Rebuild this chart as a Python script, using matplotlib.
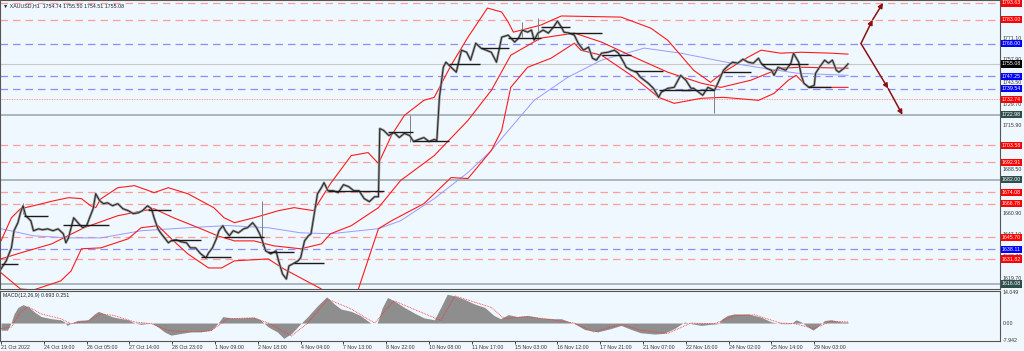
import numpy as np
import matplotlib.pyplot as plt

plt.rcParams['font.family'] = ['Liberation Sans', 'DejaVu Sans']

# ---- price data (H1 bars, sampled) ----
bars = [0, 4, 8, 10, 13, 15, 17, 19, 23, 25, 29, 32, 36, 40, 44, 48, 50, 52, 56, 58, 60, 63, 66, 68, 71, 73, 76, 79,
        82, 86, 90, 94, 98, 102, 106, 109, 113, 116, 118, 121, 123, 126, 129, 131, 135, 139, 143, 146, 150, 154, 158,
        160, 163, 166, 168, 171, 173, 176, 179, 183, 187, 190, 194, 197, 199, 201, 204, 208, 212, 214, 217, 220, 222,
        225, 229, 231, 234, 237, 239, 241, 244, 247, 249, 252, 256, 260, 264, 268, 272, 276, 280, 284, 288, 291, 292,
        295, 299, 303, 307, 311, 315, 318, 322, 326, 330, 334, 336, 338, 341, 343, 347, 351, 355, 359, 362, 366, 370,
        374, 378, 382, 386, 391, 396, 399, 402, 406, 409, 411, 414, 418, 422, 426, 429, 432, 434, 438, 442, 445, 449,
        453, 456, 459, 463, 468, 473, 476, 480, 482, 486, 490, 493, 499, 503, 507, 509, 514, 519, 524, 528, 532, 534,
        541, 545, 550, 553, 557, 561, 564, 568, 572, 576, 580, 584, 586, 590, 594, 596, 599, 601, 605, 609, 611, 615,
        617, 619, 623, 627, 628, 631, 635, 638, 641, 644, 646, 650, 653]
close = [1625.6, 1630.7, 1638.9, 1649.7, 1654.8, 1661.1, 1665.5, 1659.2, 1656.0, 1649.7, 1650.9, 1650.3, 1650.9,
         1649.7, 1650.9, 1647.8, 1642.1, 1645.2, 1657.9, 1656.0, 1654.1, 1651.6, 1652.9, 1657.3, 1663.6, 1673.1,
         1668.7, 1666.8, 1667.4, 1665.5, 1666.8, 1663.6, 1662.4, 1660.5, 1661.1, 1662.4, 1665.5, 1663.6, 1657.9,
         1650.9, 1648.4, 1645.2, 1642.1, 1643.3, 1644.0, 1642.7, 1642.1, 1638.9, 1638.9, 1635.1, 1632.6, 1635.7,
         1638.9, 1644.6, 1649.7, 1652.9, 1649.7, 1646.5, 1649.7, 1648.4, 1650.9, 1651.6, 1654.8, 1651.6, 1648.4,
         1644.6, 1637.0, 1635.1, 1637.0, 1630.7, 1622.4, 1619.2, 1627.5, 1628.8, 1630.7, 1632.6, 1643.3, 1646.5,
         1647.8, 1657.9, 1673.1, 1676.9, 1680.1, 1675.0, 1675.0, 1673.8, 1678.8, 1677.6, 1675.0, 1675.0, 1670.0,
         1668.1, 1671.2, 1671.2, 1714.3, 1713.1, 1709.9, 1711.8, 1708.6, 1711.2, 1709.9, 1706.1, 1707.4, 1708.6,
         1706.1, 1707.4, 1706.7, 1734.0, 1753.0, 1756.2, 1753.0, 1749.9, 1763.8, 1762.5, 1757.5, 1768.2, 1765.1,
         1763.8, 1762.5, 1756.2, 1772.0, 1773.3, 1768.9, 1771.4, 1776.5, 1775.2, 1776.5, 1770.1, 1774.6, 1776.5,
         1774.6, 1778.4, 1782.2, 1778.4, 1775.2, 1774.6, 1773.3, 1768.2, 1763.8, 1765.7, 1758.7, 1757.5, 1761.9,
         1762.5, 1763.8, 1761.9, 1756.2, 1753.0, 1751.1, 1749.9, 1746.7, 1742.9, 1739.7, 1734.0, 1737.2, 1739.7,
         1740.3, 1747.9, 1744.8, 1739.7, 1739.7, 1735.3, 1740.3, 1738.4, 1743.5, 1751.1, 1754.3, 1756.2, 1755.6,
         1758.1, 1756.2, 1755.6, 1758.7, 1755.6, 1752.4, 1751.1, 1747.9, 1753.0, 1752.4, 1751.1, 1755.6, 1761.9,
         1756.2, 1747.9, 1742.9, 1740.3, 1741.6, 1749.2, 1753.0, 1757.5, 1755.6, 1757.5, 1751.1, 1749.9, 1752.4,
         1755.08]
# long wicks: bar, low, high
wick_bar = [17, 201, 315, 402, 414, 550]
wick_low = [1660.0, 1640.0, 1706.0, 1772.0, 1770.0, 1723.9]
wick_high = [1667.4, 1668.7, 1722.6, 1781.6, 1784.1, 1740.0]

# ---- bollinger bands and moving average ----
up_bar = [0, 8, 15, 25, 41, 52, 62, 69, 73, 77, 90, 103, 118, 129, 144, 164, 172, 180, 195, 214, 226, 241, 254, 270,
          283, 291, 301, 311, 326, 334, 347, 360, 375, 386, 391, 395, 416, 432, 478, 501, 514, 534, 547, 557, 576, 586,
          601, 617, 640, 653]
upper = [1643.3, 1657.9, 1663.6, 1665.5, 1668.7, 1670.6, 1670.0, 1665.5, 1664.3, 1669.9, 1676.9, 1678.2, 1673.8,
         1676.9, 1673.1, 1664.3, 1657.9, 1654.8, 1657.9, 1662.4, 1664.3, 1662.4, 1679.5, 1697.2, 1699.1, 1692.2,
         1709.9, 1722.6, 1732.1, 1734.0, 1754.3, 1772.0, 1790.4, 1787.9, 1781.6, 1775.2, 1779.6, 1785.4, 1784.7,
         1777.7, 1770.1, 1751.1, 1743.5, 1749.9, 1759.4, 1763.8, 1761.9, 1762.5, 1761.9, 1761.3]
mid_bar = [0, 15, 39, 64, 90, 110, 118, 133, 154, 167, 180, 195, 210, 231, 247, 254, 270, 291, 308, 334, 360, 378,
           393, 416, 442, 463, 488, 514, 540, 555, 578, 601, 617, 653]
middle = [1631.9, 1635.7, 1641.4, 1651.6, 1659.2, 1662.4, 1663.6, 1657.9, 1651.0, 1646.5, 1643.3, 1643.3, 1640.2,
          1638.3, 1641.4, 1647.8, 1652.9, 1664.3, 1681.4, 1697.2, 1719.4, 1738.4, 1760.6, 1771.4, 1774.6, 1768.9,
          1759.4, 1749.9, 1742.9, 1740.3, 1744.8, 1752.4, 1753.0, 1752.4]
lo_bar = [0, 15, 25, 46, 54, 62, 77, 98, 108, 121, 133, 144, 160, 170, 180, 206, 218, 231, 247, 262, 275, 291, 301,
          326, 347, 360, 378, 386, 393, 406, 424, 442, 447, 463, 488, 507, 519, 540, 557, 584, 596, 607, 613, 622, 653]
lower = [1623.1, 1612.9, 1612.3, 1618.0, 1624.3, 1638.3, 1638.9, 1644.6, 1651.6, 1652.9, 1643.3, 1635.1, 1626.2,
         1626.2, 1630.7, 1631.9, 1625.6, 1619.9, 1612.9, 1605.3, 1611.6, 1651.0, 1656.0, 1666.8, 1683.3, 1682.7,
         1700.4, 1713.1, 1740.3, 1753.0, 1758.7, 1768.2, 1763.8, 1760.6, 1746.7, 1734.0, 1730.2, 1733.4, 1734.0,
         1732.1, 1736.5, 1744.8, 1747.9, 1740.3, 1740.3]
ma_bar = [0, 25, 52, 77, 108, 144, 175, 206, 231, 254, 291, 308, 334, 360, 378, 411, 437, 463, 496, 524, 563, 588,
          614, 653]
ma = [1651.0, 1646.5, 1645.2, 1645.2, 1649.7, 1651.6, 1653.0, 1651.6, 1648.4, 1647.8, 1651.0, 1656.0, 1670.0,
      1686.5, 1700.4, 1732.1, 1746.7, 1757.5, 1765.1, 1761.9, 1755.6, 1752.4, 1749.2, 1747.9]

# ---- short black level segments: start bar, end bar, price ----
seg_start = [0, 18, 48, 113, 131, 154, 172, 206, 226, 252, 298, 318, 345, 370, 391, 416, 437, 463, 488, 507, 524,
             557, 586, 622]
seg_end = [13, 36, 83, 131, 154, 177, 203, 226, 249, 295, 318, 345, 369, 392, 416, 439, 463, 486, 510, 532, 550,
           578, 622, 640]
seg_price = [1628.8, 1659.2, 1653.5, 1663.0, 1644.0, 1633.2, 1645.9, 1636.4, 1629.4, 1675.0, 1712.4, 1706.7,
             1754.9, 1765.1, 1771.4, 1778.4, 1774.6, 1760.6, 1750.5, 1738.4, 1738.4, 1749.9, 1754.9, 1740.3]

# ---- horizontal levels ----
red_levels = [1793.63, 1783.00, 1703.58, 1692.91, 1674.08, 1666.78, 1645.70, 1631.82]
red_dotted = [1732.74]
blue_levels = [1768.00, 1747.25, 1739.54, 1638.11]
gray_levels = [1722.98, 1682.00, 1616.08]
last_price = 1755.08
axis_ticks = [1771.10, 1757.90, 1743.50, 1729.70, 1715.90, 1688.50, 1660.90, 1647.10, 1633.30, 1619.70]

# ---- projection arrows ----
arrow_up_bar = [663, 672, 680]
arrow_up = [1768.00, 1783.00, 1793.63]
arrow_dn_bar = [663, 684, 695]
arrow_dn = [1768.00, 1739.54, 1722.98]

# ---- MACD ----
hist_bar = [0, 5, 8, 10, 13, 17, 21, 26, 31, 39, 46, 49, 51, 54, 59, 67, 72, 75, 80, 87, 98, 103, 108, 116, 121, 126,
            131, 139, 146, 154, 162, 167, 171, 177, 185, 195, 200, 206, 213, 218, 224, 231, 236, 244, 251, 257, 262,
            270, 277, 285, 290, 294, 298, 303, 311, 319, 326, 334, 339, 344, 350, 357, 365, 373, 380, 385, 391, 398,
            406, 416, 427, 432, 442, 450, 460, 470, 478, 486, 493, 504, 511, 519, 527, 532, 540, 547, 553, 556, 560,
            565, 576, 586, 594, 601, 609, 613, 617, 622, 626, 630, 635, 640, 648, 653]
hist = [-3.3, -3.3, 0.5, 4.2, 7.2, 8.5, 7.5, 5.0, 3.0, 2.0, 1.5, 0.5, -1.1, 0.0, 1.2, 1.5, 4.2, 5.4, 4.2, 2.7, 1.5,
        0.0, -0.6, 0.0, -1.8, -4.1, -5.6, -4.8, -4.1, -4.1, -3.3, -0.3, 3.0, 2.4, 2.4, 2.7, 1.5, -1.8, -4.1, -7.1,
        -4.8, -0.3, 2.7, 8.0, 12.1, 8.8, 6.5, 5.4, 3.5, 0.0, 0.0, 7.2, 11.8, 10.3, 7.2, 4.5, 2.4, 1.5, 7.2, 13.3, 12.5,
        11.0, 8.8, 7.2, 3.5, 2.0, 3.9, 3.0, 3.5, 2.4, 2.0, 2.0, -0.3, -3.0, -4.1, -2.6, -1.1, -3.0, -4.5, -5.1, -4.8,
        -2.6, 0.5, -0.3, -1.1, -0.6, -0.3, 2.0, 3.5, 4.2, 4.2, 2.7, 0.5, -0.3, -0.3, 1.5, 0.5, -1.8, -3.3, -1.5, 1.2,
        1.5, 0.5, 0.5]
sig_bar = [0, 8, 15, 21, 31, 46, 54, 67, 77, 87, 103, 116, 128, 144, 162, 175, 195, 206, 224, 236, 252, 270, 288,
           303, 321, 339, 350, 378, 388, 406, 442, 457, 478, 493, 514, 532, 550, 565, 581, 601, 612, 627, 640, 653]
signal = [-2.6, -1.8, 5.0, 7.5, 4.2, 2.0, -0.3, 0.9, 4.2, 3.5, 0.5, -0.3, -3.3, -4.1, -3.6, 2.0, 2.4, 0.0, -6.0,
          -0.3, 11.0, 6.5, 0.0, 10.3, 5.7, 1.2, 12.5, 7.2, 2.0, 3.0, 0.0, -4.1, -0.6, -3.3, -4.8, 0.0, -0.3, 3.3, 3.8,
          0.0, -0.3, -2.6, 0.9, 0.5]

time_labels = ['21 Oct 2022', '24 Oct 19:00', '26 Oct 05:00', '27 Oct 14:00', '28 Oct 23:00', '1 Nov 09:00',
               '2 Nov 18:00', '4 Nov 04:00', '7 Nov 13:00', '8 Nov 22:00', '10 Nov 08:00', '11 Nov 17:00',
               '15 Nov 03:00', '16 Nov 12:00', '17 Nov 21:00', '21 Nov 07:00', '22 Nov 16:00', '24 Nov 02:00',
               '25 Nov 14:00', '29 Nov 03:00']
time_ticks = [33 * i for i in range(len(time_labels))]

bg = '#f0f8ff'
fs = 3.8
W, H = 1024, 351
fig = plt.figure(figsize=(W / 100, H / 100), dpi=100, facecolor=bg)
ax = fig.add_axes([0, (H - 289) / H, 1000 / W, 289 / H], facecolor=bg)
mx = fig.add_axes([0, (H - 341) / H, 1000 / W, 50 / H], facecolor=bg)
xlim = (-0.8, 770.2)

# levels
for p in red_levels:
    ax.axhline(p, color='#ff9c9c', lw=0.9, dashes=(6, 4))
for p in red_dotted:
    ax.axhline(p, color='#ff8080', lw=0.6, ls=(0, (1, 1)))
for p in blue_levels:
    ax.axhline(p, color='#8c8cff', lw=0.9, dashes=(6, 4))
for p in gray_levels:
    ax.axhline(p, color='#a9b1b8', lw=1.3)
ax.axhline(last_price, color='#c8c8c8', lw=0.8)

# indicators
ax.plot(ma_bar, ma, color='#9a9aff', lw=0.7)
for bx, by in [(up_bar, upper), (mid_bar, middle), (lo_bar, lower)]:
    ax.plot(bx, by, color='#ff1a1a', lw=0.8)

# price
ax.vlines(wick_bar, wick_low, wick_high, color='#808080', lw=0.7)
ax.plot(bars, close, color='#a0a0a0', lw=1.8)
ax.plot(bars, close, color='#2a2a2a', lw=0.75)
ax.hlines(seg_price, seg_start, seg_end, color='#1a1a1a', lw=1.0)

# arrows
for xs, ys in [(arrow_up_bar, arrow_up), (arrow_dn_bar, arrow_dn)]:
    for i in range(len(xs) - 1):
        ax.annotate('', xy=(xs[i + 1], ys[i + 1]), xytext=(xs[i], ys[i]),
                    arrowprops=dict(arrowstyle='-|>', color='#8b1010', lw=1.1, mutation_scale=7,
                                    shrinkA=0, shrinkB=0))

ax.set_xlim(*xlim)
ax.set_ylim(1612.9, 1795.5)
ax.set_xticks([])
ax.set_yticks([])
for s in ax.spines.values():
    s.set_color('#555555')
    s.set_linewidth(0.8)


def tag(y, text, fc):
    ax.text(1.002, y, text, transform=ax.get_yaxis_transform(), fontsize=fs, color='white',
            va='center', ha='left', clip_on=False,
            bbox=dict(boxstyle='square,pad=0.2', fc=fc, ec='none'))


for p in axis_ticks:
    ax.text(1.003, p, f'{p:.2f}', transform=ax.get_yaxis_transform(), fontsize=fs, color='#333333',
            va='center', ha='left', clip_on=False)
for p in red_levels + red_dotted:
    tag(p, f'{p:.2f}', '#ff0000')
for p in blue_levels:
    tag(p, f'{p:.2f}', '#0000ff')
for p in gray_levels:
    tag(p, f'{p:.2f}', '#2f4f4f')
tag(last_price, f'{last_price:.2f}', '#000000')

ax.text(0.003, 0.988, '\u25bc XAUUSD,H1  1754.74 1755.50 1754.51 1755.08', transform=ax.transAxes,
        fontsize=fs, color='#222222', va='top', ha='left', family=['Liberation Sans', 'DejaVu Sans'])

# MACD panel
mx.fill_between(hist_bar, 0, hist, color='#8e8e8e', lw=0)
mx.plot(sig_bar, signal, color='#ff3030', lw=0.6, ls=(0, (1, 1)))
mx.set_xlim(*xlim)
mx.set_ylim(-8.3, 14.8)
mx.set_yticks([])
mx.set_xticks(time_ticks)
mx.set_xticklabels(time_labels, fontsize=fs, color='#333333', ha='left')
mx.tick_params(axis='x', length=2, pad=1, width=0.5)
for s in mx.spines.values():
    s.set_color('#555555')
    s.set_linewidth(0.8)
for v, t in [(14.049, '14.049'), (0.0, '0.00'), (-7.942, '-7.942')]:
    mx.text(1.003, v, t, transform=mx.get_yaxis_transform(), fontsize=fs,
            color='#333333', va='center', ha='left', clip_on=False)
mx.text(0.003, 0.97, 'MACD(12,26,9) 0.693 0.251', transform=mx.transAxes, fontsize=fs, color='#222222',
        va='top', ha='left')

fig.savefig('out.png', dpi=100, facecolor=bg)
